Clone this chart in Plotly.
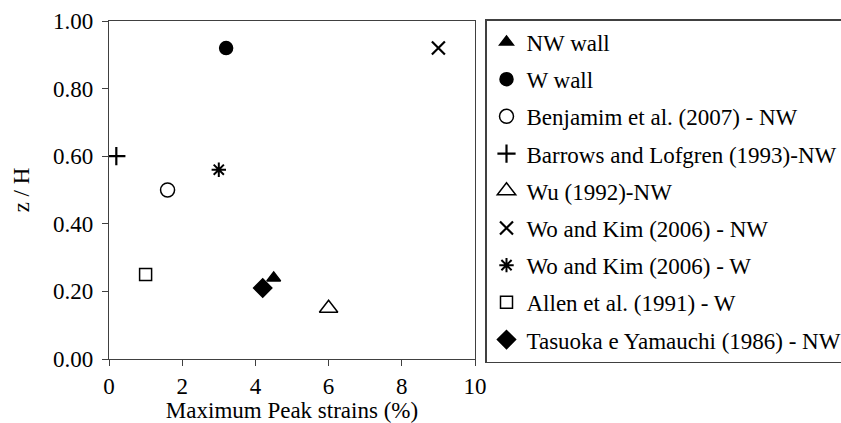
import plotly.graph_objects as go

# Peak strain measurements (x: maximum peak strain in %, y: normalised height z/H)
series_names = [
    "NW wall",
    "W wall",
    "Benjamim et al. (2007) - NW",
    "Barrows and Lofgren (1993)-NW",
    "Wu (1992)-NW",
    "Wo and Kim (2006) - NW",
    "Wo and Kim (2006) - W",
    "Allen et al. (1991) - W",
    "Tasuoka e Yamauchi (1986) - NW",
]
strain_pct = [4.5, 3.2, 1.6, 0.2, 6.0, 9.0, 3.0, 1.0, 4.2]
z_over_h = [0.24, 0.92, 0.50, 0.60, 0.15, 0.92, 0.56, 0.25, 0.21]

x_ticks = [0, 2, 4, 6, 8, 10]
y_ticks = [0.0, 0.2, 0.4, 0.6, 0.8, 1.0]

symbols = [
    "triangle-up", "circle", "circle-open", "cross-thin-open",
    "triangle-up-open", "x-thin-open", "asterisk-open", "square-open", "diamond",
]
sizes = [12, 13, 14, 13, 16, 13, 12, 12, 14]
widths = [1.5, 1.5, 1.5, 2.2, 1.5, 2.2, 2.0, 1.5, 1.5]

FONT = "Liberation Serif"
INK = "#000000"
AXIS = "#404040"

fig = go.Figure()
for i, name in enumerate(series_names):
    fig.add_trace(go.Scatter(
        x=[strain_pct[i]], y=[z_over_h[i]],
        mode="markers", name=name, legendgroup=name,
        marker=dict(symbol=symbols[i], size=sizes[i], color=INK,
                    line=dict(color=INK, width=widths[i])),
    ))

fig.update_layout(
    width=841, height=423,
    margin=dict(l=109, r=366, t=21, b=64, autoexpand=False),
    paper_bgcolor="white", plot_bgcolor="white",
    font=dict(family=FONT, size=23, color=INK),
    showlegend=True,
    legend=dict(
        x=(485 - 109) / 366, xanchor="left",
        y=(359 - 19) / 338, yanchor="top",
        maxheight=420,
        bordercolor=AXIS, borderwidth=1.5,
        font=dict(family=FONT, size=23, color=INK),
        tracegroupgap=4.3, itemwidth=30,
        bgcolor="white",
    ),
    xaxis=dict(
        range=[0, 10], tickvals=x_ticks, ticktext=[str(v) for v in x_ticks],
        ticks="outside", ticklen=6, tickcolor=AXIS, tickwidth=1.3,
        showline=True, linecolor=AXIS, linewidth=1.3, mirror=True,
        showgrid=False, zeroline=False,
        tickfont=dict(family=FONT, size=23, color=INK),
        title=dict(text="Maximum Peak strains (%)", standoff=2,
                   font=dict(family=FONT, size=23, color=INK)),
    ),
    yaxis=dict(
        range=[0, 1], tickvals=y_ticks, ticktext=[f"{v:.2f}" for v in y_ticks],
        ticks="outside", ticklen=6, tickcolor=AXIS, tickwidth=1.3,
        ticklabelstandoff=4,
        showline=True, linecolor=AXIS, linewidth=1.3, mirror=True,
        showgrid=False, zeroline=False,
        tickfont=dict(family=FONT, size=23, color=INK),
        title=dict(text="z / H", standoff=16,
                   font=dict(family=FONT, size=23, color=INK)),
    ),
)

fig.write_html("out.html")
